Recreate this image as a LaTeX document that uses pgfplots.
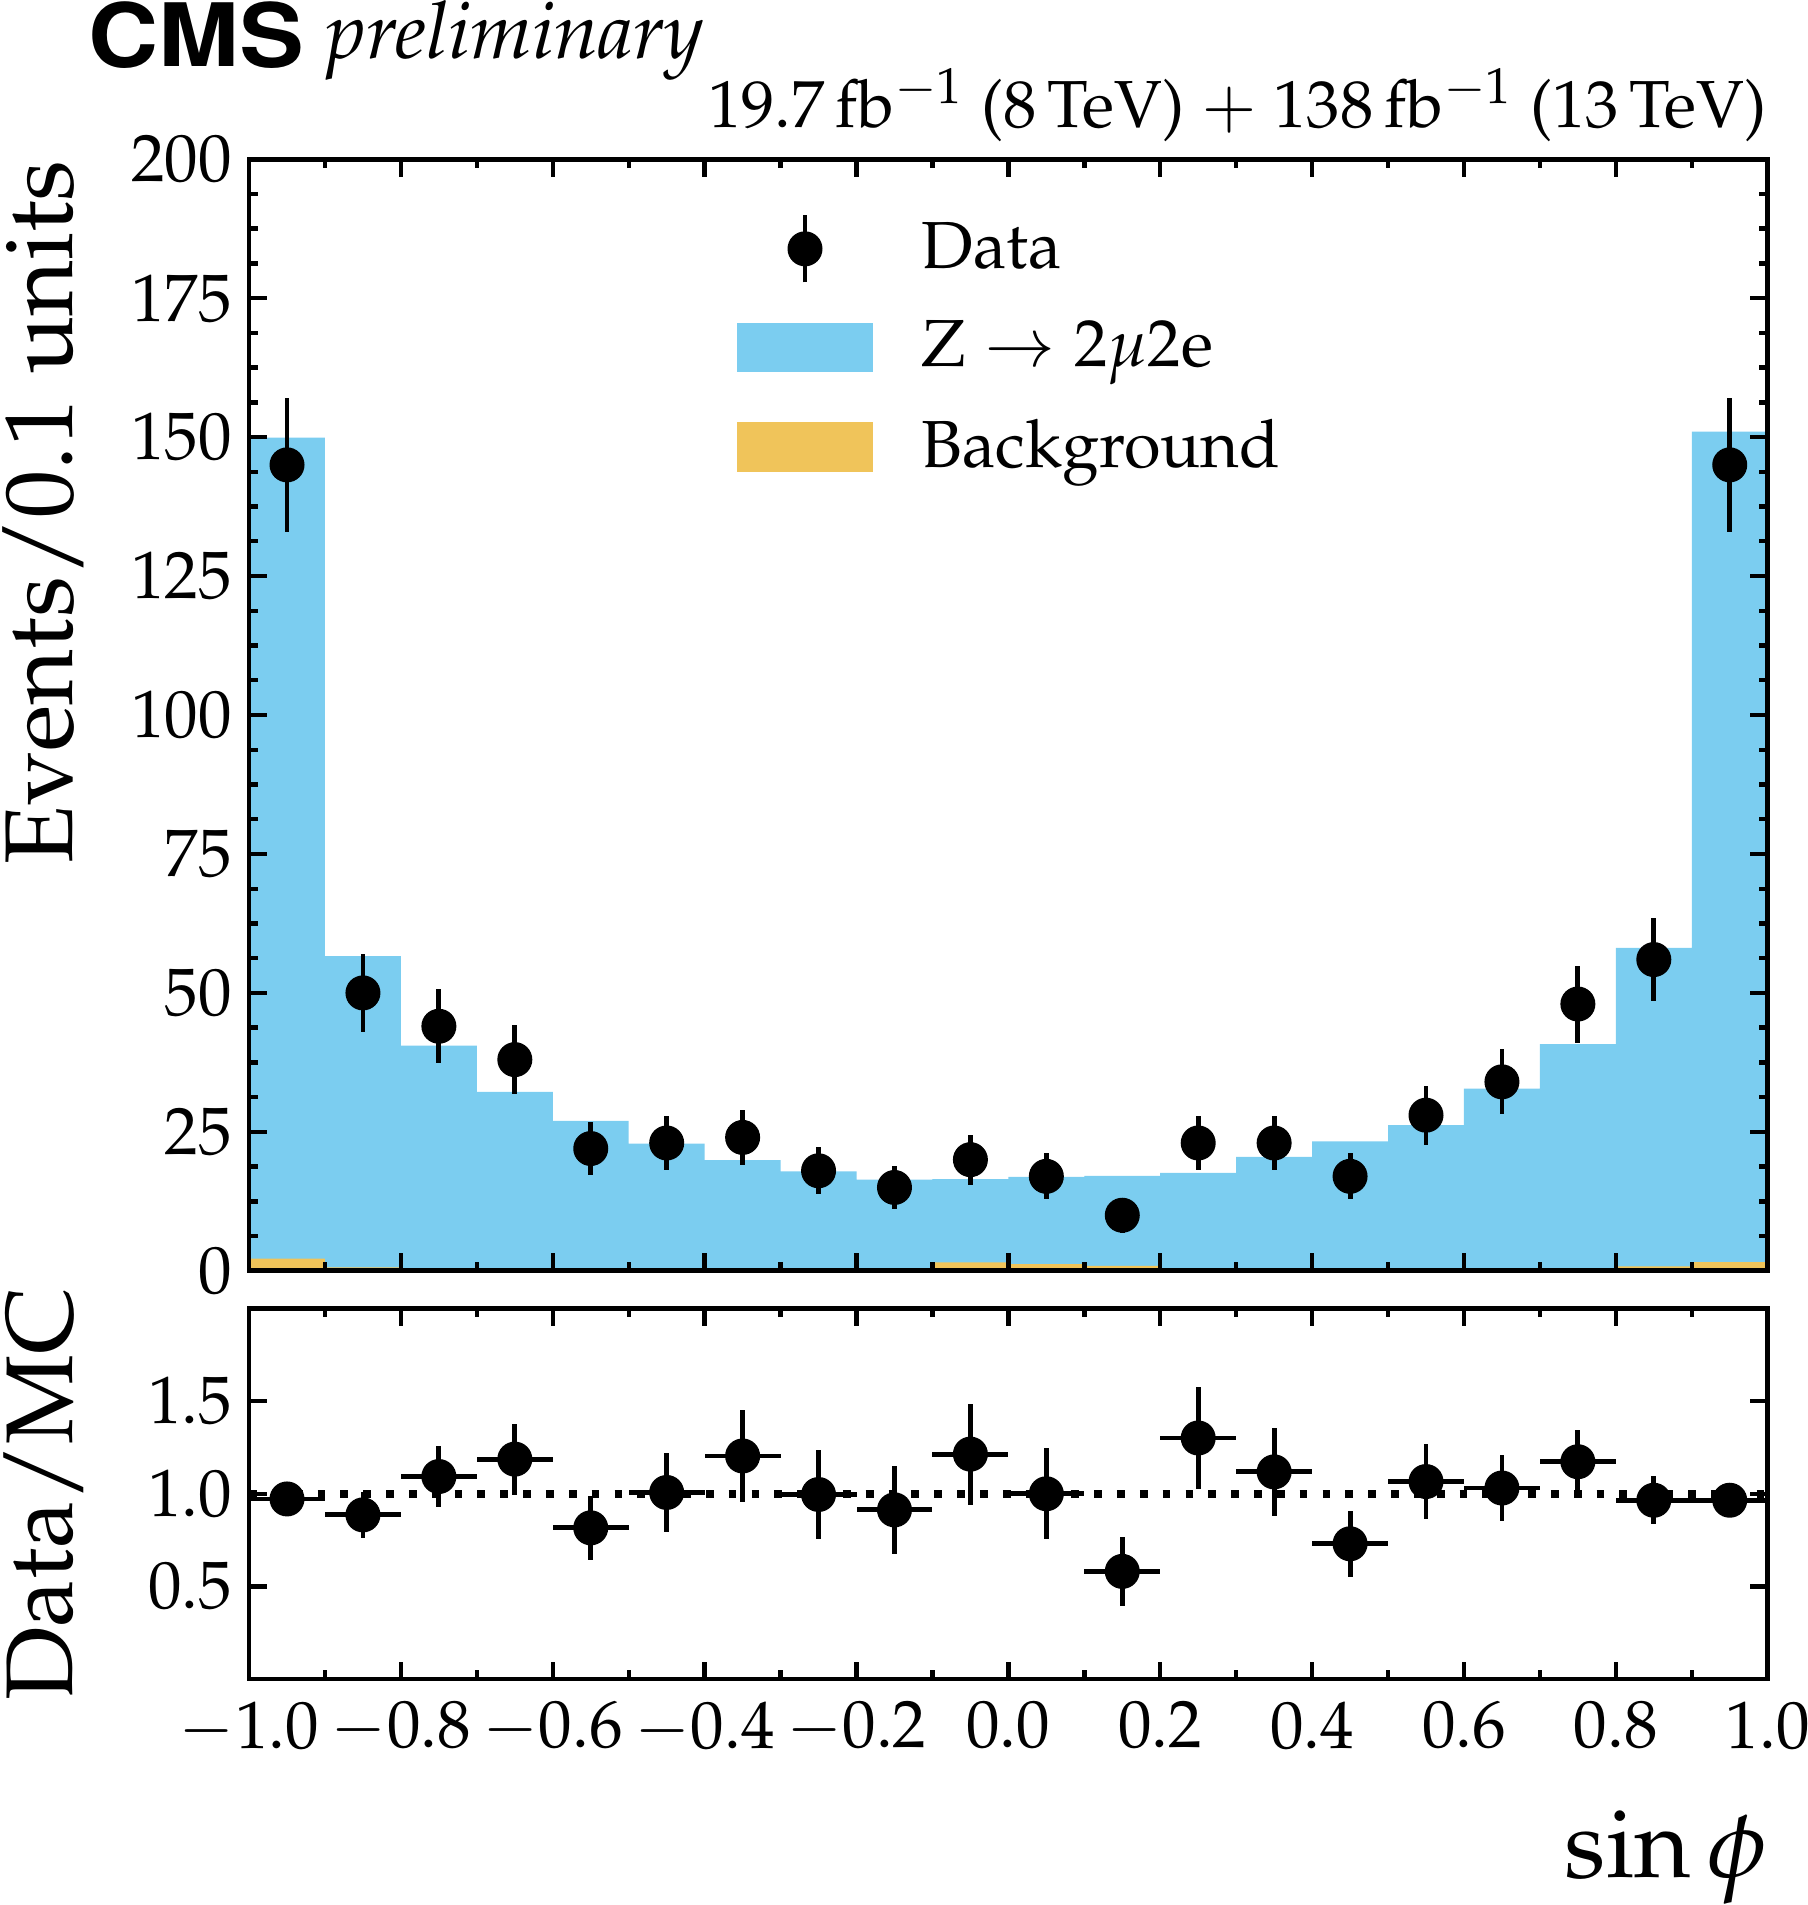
\documentclass[border=0pt]{standalone}
\usepackage[T1]{fontenc}
\usepackage{mathpazo}
\usepackage{pgfplots}
\usepackage{pgfplotstable}
\pgfplotsset{compat=1.18}
\definecolor{zblue}{RGB}{123,205,240}
\definecolor{bkgorange}{RGB}{240,196,90}

% histogram: left bin edge, background, Z->2mu2e
\pgfplotstableread{
x     bkg   z
-1.0  2.2   147.7
-0.9  0.6   56.0
-0.8  0.1   40.4
-0.7  0.1   32.1
-0.6  0.05  26.95
-0.5  0.05  22.85
-0.4  0.25  19.65
-0.3  0.25  17.65
-0.2  0.4   16.0
-0.1  1.5   15.0
 0.0  1.2   15.7
 0.1  0.9   16.2
 0.2  0.25  17.35
 0.3  0.45  20.05
 0.4  0.05  23.25
 0.5  0.25  25.95
 0.6  0.35  32.45
 0.7  0.05  40.75
 0.8  0.8   57.3
 0.9  1.55  149.45
 1.0  1.55  149.45
}\hist

% data points: bin centre, events, stat. error
\pgfplotstableread{
x      y    ey
-0.95  145  12.04
-0.85  50   7.07
-0.75  44   6.63
-0.65  38   6.16
-0.55  22   4.69
-0.45  23   4.80
-0.35  24   4.90
-0.25  18   4.24
-0.15  15   3.87
-0.05  20   4.47
 0.05  17   4.12
 0.15  10   3.16
 0.25  23   4.80
 0.35  23   4.80
 0.45  17   4.12
 0.55  28   5.29
 0.65  34   5.83
 0.75  48   6.93
 0.85  56   7.48
 0.95  145  12.04
}\datapts

% ratio data / MC
\pgfplotstableread{
x      r      er
-0.95  0.972  0.080
-0.85  0.886  0.125
-0.75  1.093  0.164
-0.65  1.187  0.192
-0.55  0.816  0.174
-0.45  1.007  0.211
-0.35  1.204  0.249
-0.25  0.996  0.240
-0.15  0.913  0.239
-0.05  1.214  0.273
 0.05  1.000  0.245
 0.15  0.581  0.186
 0.25  1.301  0.274
 0.35  1.118  0.236
 0.45  0.730  0.178
 0.55  1.066  0.203
 0.65  1.031  0.179
 0.75  1.173  0.170
 0.85  0.965  0.129
 0.95  0.965  0.080
}\ratio

\pgfplotsset{
  cmsaxis/.style={
    scale only axis,
    width=312.5pt,
    xmin=-1, xmax=1,
    axis line style={line width=1pt},
    tick align=inside,
    tick pos=both,
    major tick length=3.6pt,
    minor tick length=1.8pt,
    every tick/.style={black, line width=0.9pt},
    xtick={-1,-0.8,...,1.01},
    minor x tick num=1,
    ticklabel style={font=\fontsize{13.8}{16}\selectfont},
    x tick label style={yshift=-1.2pt, /pgf/number format/.cd, fixed, fixed zerofill, precision=1},
  },
}

\begin{document}
\begin{tikzpicture}
\useasboundingbox (-51.25pt,-130.5pt) rectangle (320.75pt,261.5pt);

\begin{axis}[cmsaxis,
  at={(0pt,0pt)}, anchor=south west,
  height=228.75pt,
  ymin=0, ymax=200,
  ytick={0,25,...,200},
  minor y tick num=3,
  xticklabels={},
  axis on top,
  legend style={at={(axis description cs:0.3208,0.953)}, anchor=north west,
    draw=none, fill=none, inner sep=0pt, row sep=5.25pt,
    font=\fontsize{13.7}{16}\selectfont},
  legend cell align=left,
]
\addplot[const plot, fill=zblue, draw=none, forget plot]
  table[x=x, y expr=\thisrow{bkg}+\thisrow{z}] {\hist} \closedcycle;
\addplot[const plot, fill=bkgorange, draw=none, forget plot]
  table[x=x, y=bkg] {\hist} \closedcycle;
\addplot[only marks, mark=*, mark size=3.4pt, black, forget plot,
  error bars/.cd, y dir=both, y explicit, error mark=none,
  error bar style={line width=1pt}]
  table[x=x, y=y, y error=ey] {\datapts};

\addlegendimage{legend image code/.code={
  \draw[black, line width=1pt] (13.75pt,-6.9pt) -- (13.75pt,6.9pt);
  \fill[black] (13.75pt,0pt) circle (3.4pt);
  \path[draw=none, fill=none] (0pt,0pt) -- (35.75pt,0pt);}}
\addlegendentry{Data}
\addlegendimage{legend image code/.code={
  \fill[zblue] (0pt,-4.9pt) rectangle (27.5pt,4.9pt);
  \path[draw=none, fill=none] (0pt,0pt) -- (35.75pt,0pt);}}
\addlegendentry{$\mathrm{Z}\rightarrow 2\mu 2\mathrm{e}$}
\addlegendimage{legend image code/.code={
  \fill[bkgorange] (0pt,-4.9pt) rectangle (27.5pt,4.9pt);
  \path[draw=none, fill=none] (0pt,0pt) -- (35.75pt,0pt);}}
\addlegendentry{Background}
\end{axis}

\begin{axis}[cmsaxis,
  at={(0pt,-7.75pt)}, anchor=north west,
  height=76.25pt,
  ymin=0, ymax=2,
  ytick={0.5,1.0,1.5},
  y tick label style={/pgf/number format/.cd, fixed, fixed zerofill, precision=1},
]
\addplot[black, line width=1.6pt, dash pattern=on 1.6pt off 3.1pt, forget plot]
  coordinates {(-1,1) (1,1)};
\addplot[only marks, mark=*, mark size=3.4pt, black,
  error bars/.cd, x dir=both, x fixed=0.05, y dir=both, y explicit, error mark=none,
  error bar style={line width=1pt}]
  table[x=x, y=r, y error=er] {\ratio};
\end{axis}

% texts
\node[anchor=base west, inner sep=0pt] at (-33.2pt,247.75pt)
  {\scalebox{1.11}[1]{\usefont{T1}{phv}{b}{n}\fontsize{18}{20}\selectfont CMS}};
\node[anchor=base west, inner sep=0pt] at (15.75pt,249.5pt)
  {\fontsize{16.3}{18}\selectfont\itshape preliminary};
\node[anchor=base east, inner sep=0pt] at (312.5pt,235.25pt)
  {\fontsize{13.7}{16}\selectfont 19.7\,fb$^{-1}$ (8\,TeV) $+$ 138\,fb$^{-1}$ (13\,TeV)};
\node[anchor=base east, rotate=90, inner sep=0pt] at (-36.25pt,228.75pt)
  {\fontsize{19.8}{24}\selectfont Events/0.1 units};
\node[anchor=base, rotate=90, inner sep=0pt] at (-36.25pt,-45.9pt)
  {\fontsize{19.5}{24}\selectfont Data/MC};
\node[anchor=base east, inner sep=0pt] at (312.5pt,-124.75pt)
  {\fontsize{20}{24}\selectfont $\sin\phi$};
\end{tikzpicture}
\end{document}
